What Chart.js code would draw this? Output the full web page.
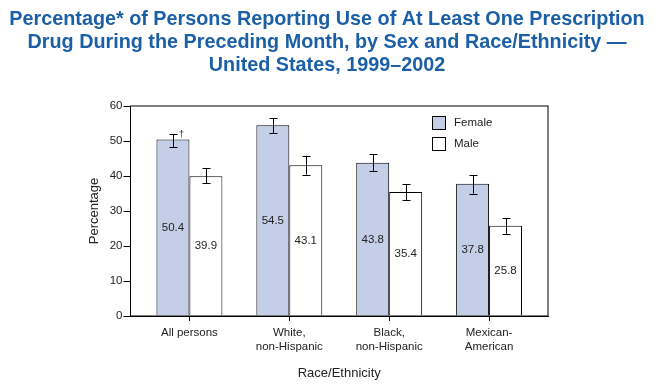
<!DOCTYPE html>
<html>
<head>
<meta charset="utf-8">
<script src="https://cdn.jsdelivr.net/npm/chart.js@4"></script>
<style>
    body { margin: 0; background: #fff; }
</style>
</head>
<body>
<canvas id="rx-chart" width="655" height="391"></canvas>
<script>
// categories (multi-line tick labels)
const categories = [['All persons'], ['White,', 'non-Hispanic'], ['Black,', 'non-Hispanic'], ['Mexican-', 'American']];

// percentages
const female = [50.4, 54.5, 43.8, 37.8];
const male = [39.9, 43.1, 35.4, 25.8];

// 95% confidence intervals
const femaleLow = [48.3, 52.3, 41.5, 35.0];
const femaleHigh = [52.0, 56.5, 46.3, 40.3];
const maleLow = [38.0, 40.4, 33.1, 23.5];
const maleHigh = [42.3, 45.8, 37.7, 28.0];

const yTicks = [0, 10, 20, 30, 40, 50, 60];

const titleLines = [
    'Percentage* of Persons Reporting Use of At Least One Prescription',
    'Drug During the Preceding Month, by Sex and Race/Ethnicity \u2014',
    'United States, 1999\u20132002'
];

const textFont = '"Liberation Sans", Arial, Helvetica, sans-serif';
const femaleColor = '#c4cfe7';

// title, frame, error bars, value labels and legend
const extras = {
    id: 'extras',
    afterDatasetsDraw: (chart) => {
        const ctx = chart.ctx;
        const area = chart.chartArea;
        const y = chart.scales.y;

        // frame top/right
        ctx.save();
        ctx.strokeStyle = '#000';
        ctx.lineWidth = 1;
        ctx.strokeRect(area.left, area.top, area.right - area.left, area.bottom - area.top);

        // error bars
        const lows = [femaleLow, maleLow];
        const highs = [femaleHigh, maleHigh];
        [0, 1].forEach((d) => {
            chart.getDatasetMeta(d).data.forEach((bar, i) => {
                const x = Math.round(bar.x) + 0.5;
                const top = y.getPixelForValue(highs[d][i]);
                const bottom = y.getPixelForValue(lows[d][i]);
                ctx.beginPath();
                ctx.moveTo(x, top);
                ctx.lineTo(x, bottom);
                ctx.moveTo(x - 4, Math.round(top) + 0.5);
                ctx.lineTo(x + 4, Math.round(top) + 0.5);
                ctx.moveTo(x - 4, Math.round(bottom) + 0.5);
                ctx.lineTo(x + 4, Math.round(bottom) + 0.5);
                ctx.stroke();
            });
        });

        // value labels in the middle of each bar
        ctx.fillStyle = '#222';
        ctx.font = '11.5px ' + textFont;
        ctx.textAlign = 'center';
        ctx.textBaseline = 'middle';
        [female, male].forEach((values, d) => {
            chart.getDatasetMeta(d).data.forEach((bar, i) => {
                ctx.fillText(values[i].toFixed(1), bar.x, y.getPixelForValue(values[i] / 2));
            });
        });

        // dagger on the "All persons" female bar
        const firstBar = chart.getDatasetMeta(0).data[0];
        ctx.font = '9px ' + textFont;
        ctx.textAlign = 'left';
        ctx.fillText('\u2020', firstBar.x + 6, y.getPixelForValue(femaleHigh[0]) + 1);

        // legend
        const legendX = 432;
        [['Female', femaleColor], ['Male', '#fff']].forEach((item, i) => {
            const ly = 116 + i * 21;
            ctx.fillStyle = item[1];
            ctx.fillRect(legendX, ly, 13, 13);
            ctx.strokeRect(legendX + 0.5, ly + 0.5, 13, 13);
            ctx.fillStyle = '#222';
            ctx.font = '11.5px ' + textFont;
            ctx.textBaseline = 'middle';
            ctx.fillText(item[0], legendX + 22, ly + 7);
        });

        // title
        ctx.fillStyle = '#1b5fa7';
        ctx.font = 'bold 19.8px ' + textFont;
        ctx.textAlign = 'center';
        ctx.textBaseline = 'alphabetic';
        titleLines.forEach((line, i) => {
            ctx.fillText(line, 327, 25 + i * 23);
        });
        ctx.restore();
    }
};

const chart = new Chart(document.getElementById('rx-chart'), {
    type: 'bar',
    data: {
        datasets: [{
            label: 'Female',
            data: female.map((v, i) => ({ x: i, y: v })),
            backgroundColor: femaleColor,
            borderColor: '#000',
            borderWidth: 1
        }, {
            label: 'Male',
            data: male.map((v, i) => ({ x: i, y: v })),
            backgroundColor: '#fff',
            borderColor: '#000',
            borderWidth: 1
        }]
    },
    options: {
        responsive: false,
        animation: false,
        categoryPercentage: 0.66,
        barPercentage: 1,
        layout: {
            padding: { left: 83, right: 107, top: 106, bottom: 6 }
        },
        plugins: {
            legend: { display: false },
            tooltip: { enabled: false }
        },
        scales: {
            x: {
                type: 'linear',
                min: -0.59,
                max: 3.59,
                offset: false,
                afterFit: (scale) => { scale.height = 69; },
                afterBuildTicks: (scale) => {
                    scale.ticks = categories.map((c, i) => ({ value: i }));
                },
                grid: {
                    offset: false,
                    drawOnChartArea: false,
                    drawTicks: true,
                    tickLength: 5,
                    color: '#000'
                },
                border: { display: true, color: '#000' },
                ticks: {
                    autoSkip: false,
                    maxRotation: 0,
                    padding: 5,
                    color: '#222',
                    font: { family: textFont, size: 11.5 },
                    callback: (value) => categories[value]
                },
                title: {
                    display: true,
                    text: 'Race/Ethnicity',
                    color: '#222',
                    font: { family: textFont, size: 13 }
                }
            },
            y: {
                min: 0,
                max: 60,
                afterFit: (scale) => { scale.width = 47.5; },
                afterBuildTicks: (scale) => {
                    scale.ticks = yTicks.map((v) => ({ value: v }));
                },
                grid: {
                    drawOnChartArea: false,
                    drawTicks: true,
                    tickLength: 7,
                    color: '#000'
                },
                border: { display: true, color: '#000' },
                ticks: {
                    padding: 1,
                    color: '#222',
                    font: { family: textFont, size: 11.5 }
                },
                title: {
                    display: true,
                    text: 'Percentage',
                    color: '#222',
                    font: { family: textFont, size: 13 }
                }
            }
        }
    },
    plugins: [extras]
});
</script>
</body>
</html>
